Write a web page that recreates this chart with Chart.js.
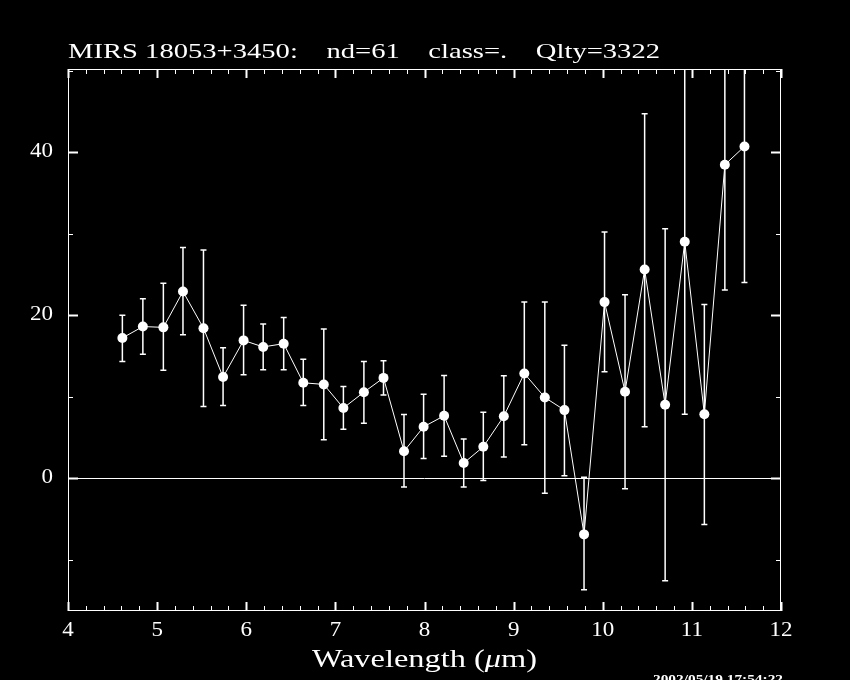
<!DOCTYPE html>
<html>
<head>
  <meta charset="UTF-8">
  <title>MIRS 18053+3450</title>
  <script src="https://cdn.jsdelivr.net/npm/chart.js"></script>
  <style>
    body { margin: 0; background: #000; }
    #wrap { width: 850px; height: 680px; position: relative; }
  </style>
</head>
<body>
  <div id="wrap"><canvas id="spec" width="850" height="680"></canvas></div>

  <script>
    // datos
    const wavelength = [4.61, 4.84, 5.07, 5.29, 5.52, 5.74, 5.97, 6.19, 6.42, 6.64, 6.87, 7.09, 7.32, 7.54, 7.77, 7.99,
                        8.22, 8.44, 8.66, 8.89, 9.12, 9.35, 9.57, 9.79, 10.02, 10.25, 10.47, 10.70, 10.92, 11.14, 11.37, 11.59];
    const flux = [17.2, 18.6, 18.5, 22.9, 18.4, 12.4, 16.9, 16.1, 16.5, 11.7, 11.5, 8.6, 10.55, 12.3, 3.3, 6.3,
                  7.65, 1.85, 3.85, 7.6, 12.85, 9.9, 8.35, -6.9, 21.6, 10.6, 25.6, 9.0, 29.0, 7.85, 38.45, 40.7];
    const errHigh = [20.0, 22.0, 23.9, 28.3, 28.0, 16.0, 21.2, 18.9, 19.7, 14.6, 18.3, 11.25, 14.3, 14.4, 7.8, 10.3,
                     12.6, 4.8, 8.1, 12.55, 21.6, 21.6, 16.3, 0.1, 30.2, 22.5, 44.7, 30.6, 50.3, 21.3, 53.8, 57.4];
    const errLow = [14.3, 15.2, 13.25, 17.6, 8.8, 8.9, 12.7, 13.3, 13.3, 8.9, 4.7, 6.0, 6.75, 10.2, -1.1, 2.4,
                    2.7, -1.1, -0.3, 2.6, 4.1, -1.85, 0.3, -13.7, 13.05, -1.3, 6.3, -12.6, 7.85, -5.7, 23.1, 24.0];

    const xTickLabels = [4, 5, 6, 7, 8, 9, 10, 11, 12];
    const yTickLabels = [0, 20, 40];
    const title = 'MIRS 18053+3450:    nd=61    class=.    Qlty=3322';
    const stamp = '2002/05/19 17:54:22';

    const serif = '"Liberation Serif", "DejaVu Serif", serif';

    // texto estirado en horizontal (la fuente original es mas ancha)
    function fillStretched(ctx, text, x, y, sx) {
      ctx.save();
      ctx.translate(x, y);
      ctx.scale(sx, 1);
      ctx.fillText(text, 0, 0);
      ctx.restore();
    }

    // barras de error, linea del cero, marco y marcas
    const plotExtras = {
      id: 'plotExtras',
      beforeDatasetsDraw(chart) {
        const ctx = chart.ctx, a = chart.chartArea;
        const xs = chart.scales.x, ys = chart.scales.y;
        ctx.save();
        ctx.beginPath();
        ctx.rect(a.left, a.top, a.right - a.left, a.bottom - a.top);
        ctx.clip();
        ctx.strokeStyle = '#fff';
        ctx.lineWidth = 1;
        // linea del cero
        const y0 = Math.round(ys.getPixelForValue(0)) + 0.5;
        ctx.beginPath(); ctx.moveTo(a.left, y0); ctx.lineTo(a.right, y0); ctx.stroke();
        // barras de error
        ctx.lineWidth = 1.5;
        wavelength.forEach((w, i) => {
          const px = xs.getPixelForValue(w);
          const yh = ys.getPixelForValue(errHigh[i]);
          const yl = ys.getPixelForValue(errLow[i]);
          ctx.beginPath();
          ctx.moveTo(px, yh); ctx.lineTo(px, yl);
          ctx.moveTo(px - 3, yh); ctx.lineTo(px + 3, yh);
          ctx.moveTo(px - 3, yl); ctx.lineTo(px + 3, yl);
          ctx.stroke();
        });
        ctx.restore();
      },
      afterDraw(chart) {
        const ctx = chart.ctx, a = chart.chartArea;
        const xs = chart.scales.x, ys = chart.scales.y;
        ctx.save();
        ctx.strokeStyle = '#fff';
        ctx.fillStyle = '#fff';
        ctx.lineWidth = 1;
        ctx.strokeRect(a.left + 0.5, a.top + 0.5, a.right - a.left - 1, a.bottom - a.top - 1);

        // marcas eje x (abajo y arriba)
        for (let k = 0; k <= 40; k++) {
          const v = xs.min + k * 0.2;
          const px = Math.round(xs.getPixelForValue(v)) + 0.5;
          const major = k % 5 === 0;
          ctx.lineWidth = major ? 2 : 1;
          const len = major ? 9 : 5;
          ctx.beginPath();
          ctx.moveTo(px, a.bottom); ctx.lineTo(px, a.bottom - len);
          ctx.moveTo(px, a.top); ctx.lineTo(px, a.top + len);
          ctx.stroke();
        }
        // marcas eje y (izquierda y derecha)
        for (let v = -10; v <= ys.max; v += 10) {
          const py = Math.round(ys.getPixelForValue(v)) + 0.5;
          const major = v % 20 === 0;
          ctx.lineWidth = major ? 2 : 1;
          const len = major ? 10 : 5;
          ctx.beginPath();
          ctx.moveTo(a.left, py); ctx.lineTo(a.left + len, py);
          ctx.moveTo(a.right, py); ctx.lineTo(a.right - len, py);
          ctx.stroke();
        }

        // etiquetas de los ejes
        ctx.font = '20px ' + serif;
        ctx.textBaseline = 'middle';
        ctx.textAlign = 'left';
        xTickLabels.forEach(v => {
          const w = ctx.measureText(String(v)).width * 1.15;
          fillStretched(ctx, String(v), xs.getPixelForValue(v) - w / 2, a.bottom + 20, 1.15);
        });
        yTickLabels.forEach(v => {
          const w = ctx.measureText(String(v)).width * 1.15;
          fillStretched(ctx, String(v), a.left - 15 - w, ys.getPixelForValue(v), 1.15);
        });

        // titulo
        ctx.textBaseline = 'alphabetic';
        ctx.font = '22px ' + serif;
        const tw = ctx.measureText(title).width;
        fillStretched(ctx, title, a.left, 58, 592 / tw);

        // etiqueta eje x
        const p1 = 'Wavelength (', p2 = '\u03bc', p3 = 'm)';
        ctx.font = '26px ' + serif;
        const w1 = ctx.measureText(p1).width, w3 = ctx.measureText(p3).width;
        ctx.font = 'italic 26px ' + serif;
        const w2 = ctx.measureText(p2).width;
        const sx = 225 / (w1 + w2 + w3);
        let x0 = 312;
        ctx.font = '26px ' + serif;
        fillStretched(ctx, p1, x0, 667, sx);
        ctx.font = 'italic 26px ' + serif;
        fillStretched(ctx, p2, x0 + w1 * sx, 667, sx);
        ctx.font = '26px ' + serif;
        fillStretched(ctx, p3, x0 + (w1 + w2) * sx, 667, sx);

        // fecha
        ctx.font = 'bold 12px ' + serif;
        ctx.textBaseline = 'top';
        const sw = ctx.measureText(stamp).width;
        fillStretched(ctx, stamp, 653, 674, 130 / sw);
        ctx.restore();
      }
    };

    const ctxSpec = document.getElementById('spec').getContext('2d');
    const chartSpec = new Chart(ctxSpec, {
      type: 'line',
      data: {
        datasets: [{
          data: wavelength.map((w, i) => ({ x: w, y: flux[i] })),
          borderColor: '#fff',
          borderWidth: 1,
          backgroundColor: '#fff',
          pointBackgroundColor: '#fff',
          pointBorderWidth: 0,
          pointRadius: 5,
          tension: 0,
          fill: false
        }]
      },
      options: {
        responsive: false,
        animation: false,
        layout: { padding: { left: 68, right: 69, top: 69, bottom: 69 } },
        plugins: { legend: { display: false }, tooltip: { enabled: false } },
        scales: {
          x: { type: 'linear', min: 4, max: 12, display: false },
          y: { type: 'linear', min: -16.3, max: 50.2, display: false }
        }
      },
      plugins: [plotExtras]
    });
  </script>
</body>
</html>
